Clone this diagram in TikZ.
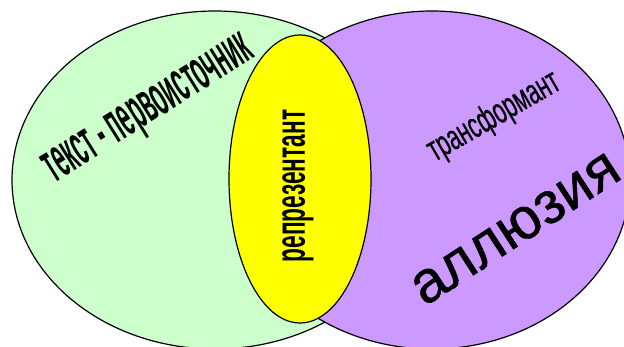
\documentclass[tikz,border=0pt]{standalone}
\usepackage{fontspec}
\setmainfont{Liberation Sans}
\definecolor{lgreen}{HTML}{CCFFCC}
\definecolor{lpurple}{HTML}{CC99FF}
\definecolor{lyellow}{HTML}{FFFF00}
\begin{document}
\begin{tikzpicture}[x=1pt,y=-1pt,
  blob/.style={draw=black,line width=1.2pt},
  lbl/.style={inner sep=0pt,text=black}]
\useasboundingbox (0,0) rectangle (624,347);
\path[blob,fill=lgreen] (215,180) ellipse [x radius=203,y radius=169];
\path[blob,fill=lpurple] (432,180) ellipse [x radius=198,y radius=169];
\path[blob,fill=lyellow] (300,179) ellipse [x radius=71,y radius=144];
\node[lbl,rotate=32] (src) at (150,112) {\scalebox{0.38}[1]{\fontsize{57}{57}\selectfont\bfseries текст - первоисточник}};
\node[lbl,rotate=90] (rep) at (298,186) {\scalebox{0.54}[1]{\fontsize{42}{42}\selectfont\bfseries репрезентант}};
\node[lbl,rotate=30] (tr) at (494,117) {\scalebox{0.6}[1]{\fontsize{36}{36}\selectfont\addfontfeature{FakeBold=0.7}трансформант}};
\node[lbl,rotate=33] (al) at (516,229) {\fontsize{59}{59}\selectfont\addfontfeature{FakeBold=0.8}аллюзия};
\end{tikzpicture}
\end{document}
